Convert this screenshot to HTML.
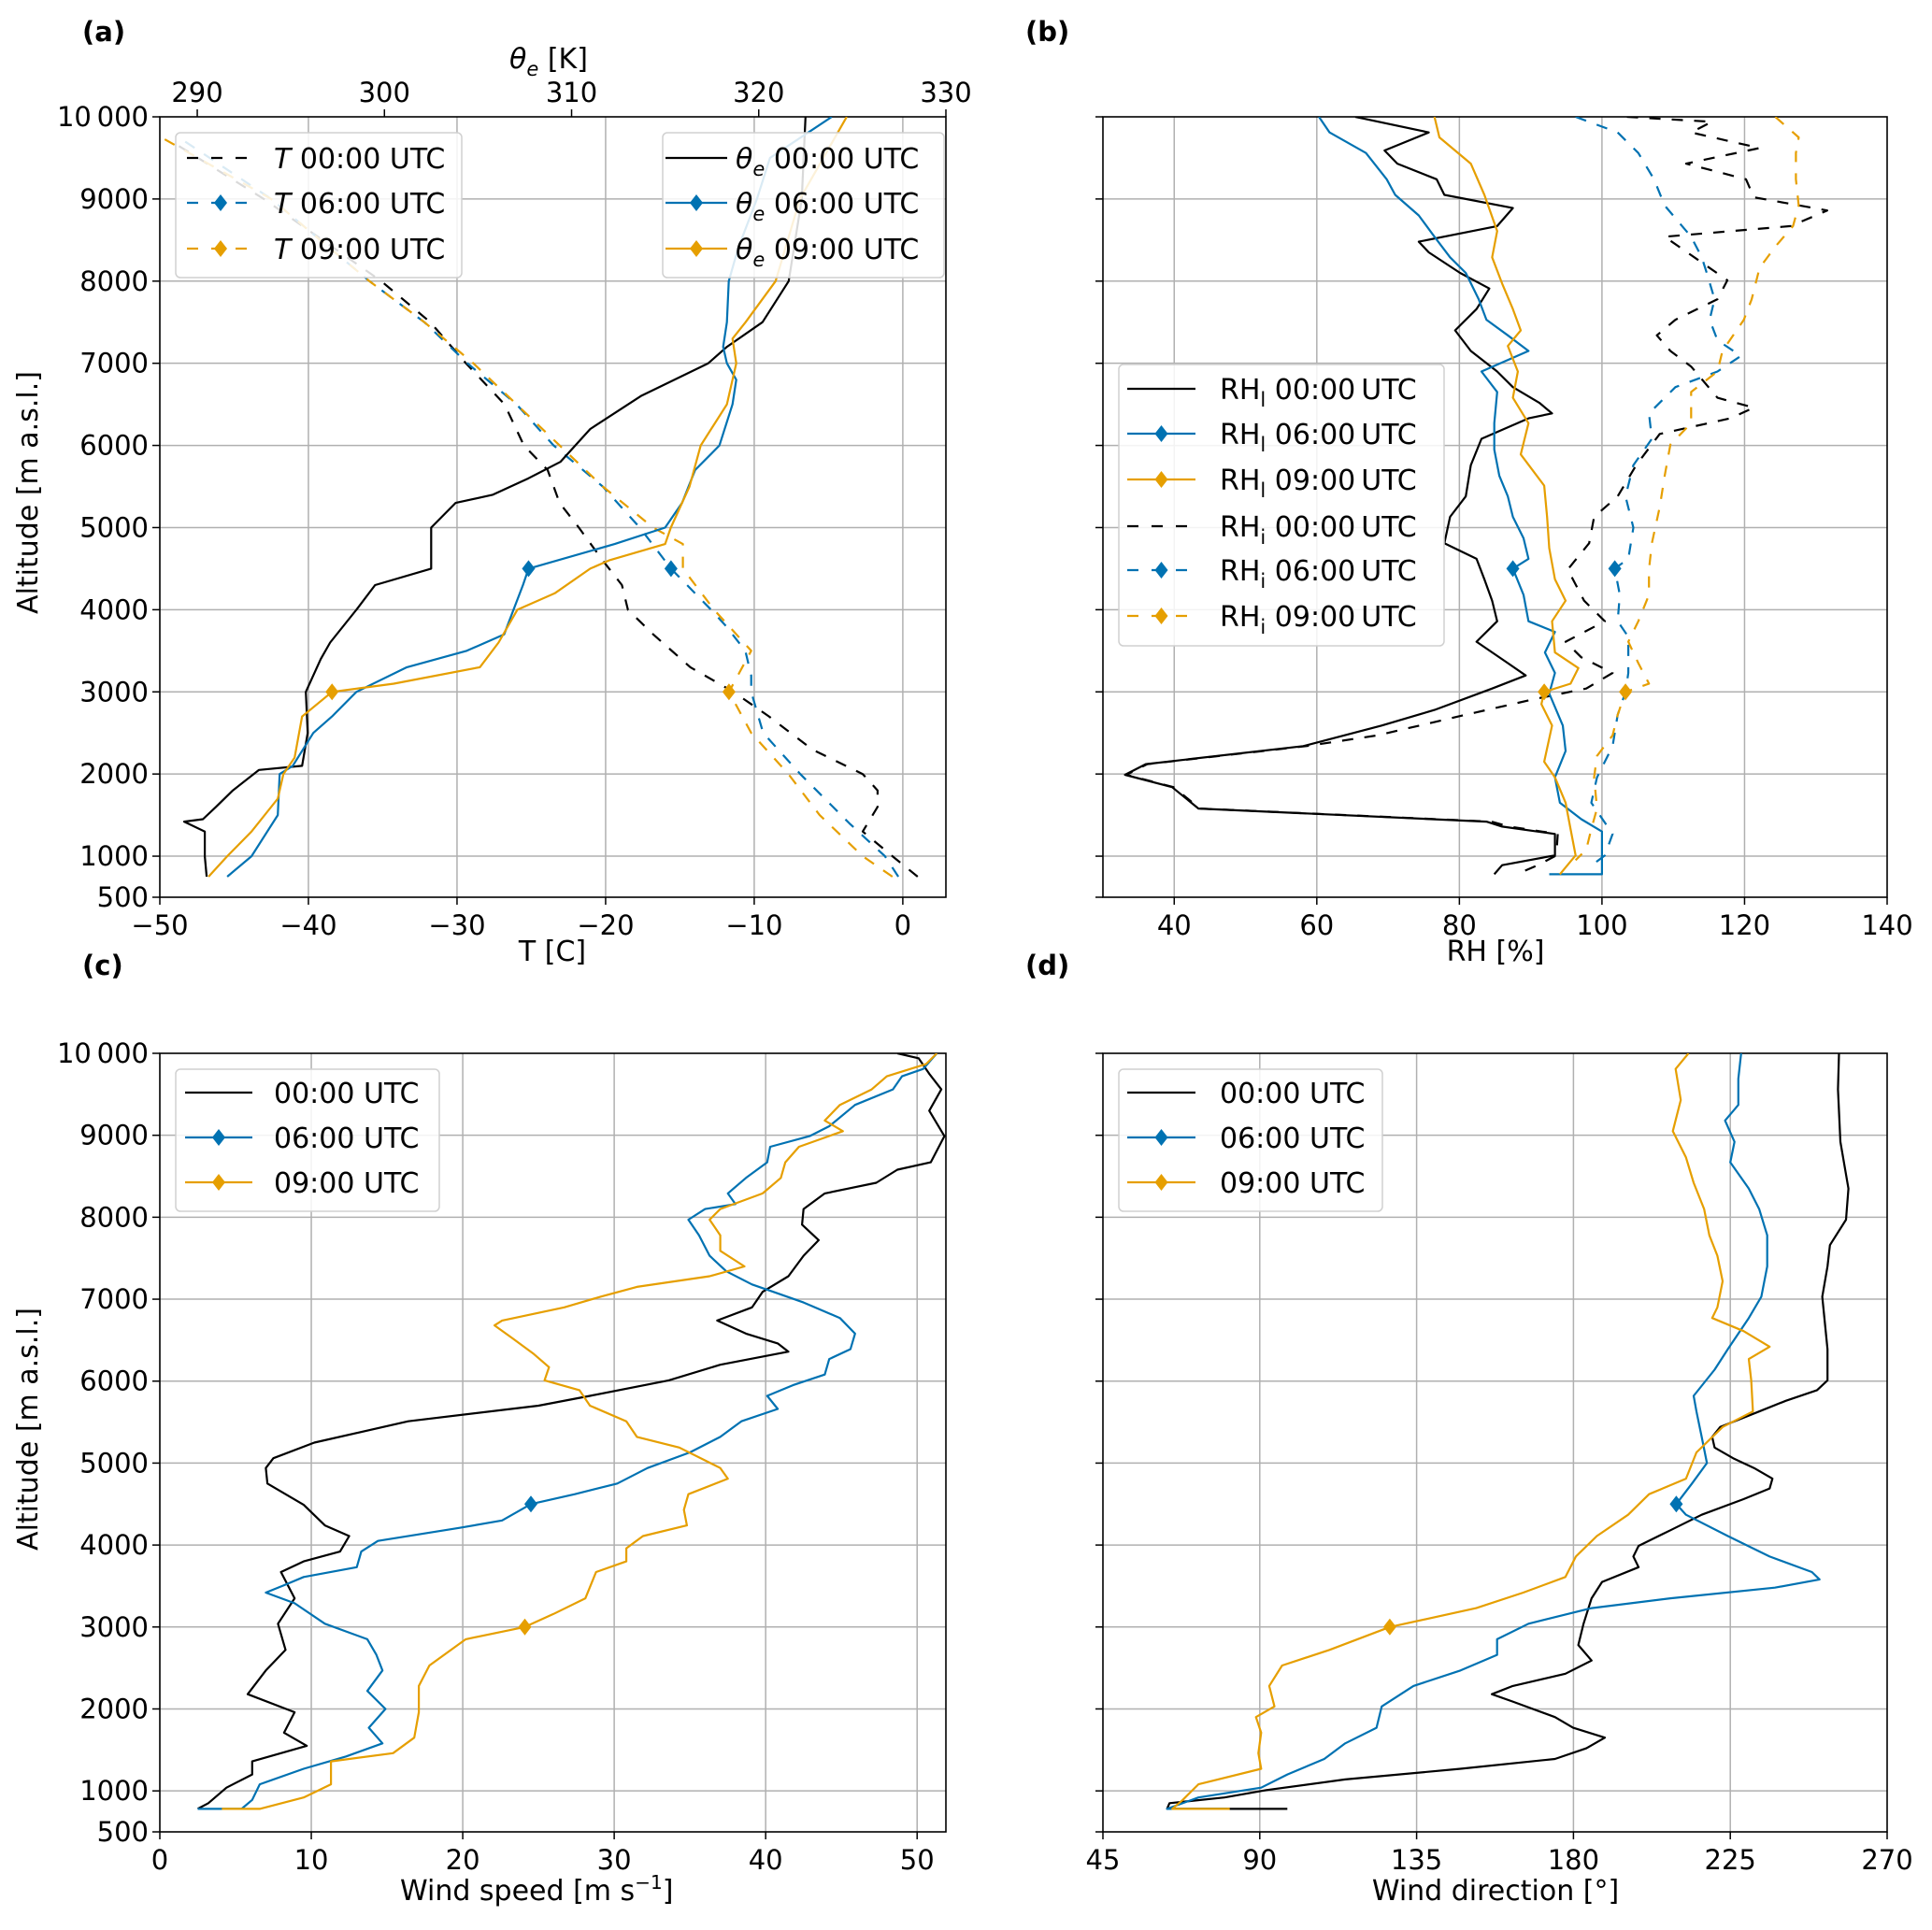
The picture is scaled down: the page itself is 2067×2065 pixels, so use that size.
<!DOCTYPE html>
<html><head><meta charset="utf-8"><style>
html,body{margin:0;padding:0;background:#fff;}
svg{display:block;font-family:"DejaVu Sans","Liberation Sans",sans-serif;}
</style></head><body>
<svg id="fig" xmlns="http://www.w3.org/2000/svg" width="2067" height="2065" viewBox="0 0 2067 2065"></svg>
<script>
// ---------- Panel (a) data ----------
const thetaE00Alt = [750,1000,1300,1420,1450,1600,1800,2050,2100,2500,3000,3400,3600,4000,4300,4500,5000,5300,5400,5600,5800,6200,6600,7000,7200,7500,8000,9000,10000];
const thetaE00 = [290.5,290.4,290.4,289.3,290.3,291.0,291.9,293.3,295.6,295.9,295.8,296.6,297.1,298.5,299.5,302.5,302.5,303.8,305.8,307.7,309.4,311.0,313.7,317.3,318.3,320.2,321.6,322.3,322.5];
const thetaE06Alt = [750,1000,1500,2000,2100,2500,2700,3000,3300,3500,3700,4000,4300,4500,4800,5000,5300,5700,6000,6500,6800,7000,7200,7500,8000,8400,9000,9500,10000];
const thetaE06 = [291.6,292.9,294.3,294.4,295.1,296.2,297.2,298.5,301.2,304.4,306.4,306.9,307.4,307.7,312.3,315.0,315.9,316.6,317.9,318.6,318.8,318.3,318.1,318.3,318.4,318.9,319.9,320.6,323.9];
const thetaE09Alt = [750,1000,1300,1700,2000,2200,2700,3000,3100,3300,3600,4000,4200,4500,4600,4800,5000,5500,6000,6500,7000,7300,7500,8000,9000,10000];
const thetaE09 = [290.6,291.6,292.9,294.3,294.6,295.2,295.6,297.2,300.5,305.1,306.1,307.1,309.1,311.0,312.0,315.0,315.3,316.3,316.9,318.3,318.8,318.6,319.3,320.9,322.2,324.7];
const temp00Alt = [750,1000,1300,1600,1800,2000,2300,2700,3000,3300,3700,4000,4300,4600,5000,5300,5700,6000,6500,7000,7500,8000,9000,9700];
const temp00 = [1.0,-0.7,-2.7,-1.7,-1.7,-2.7,-6.1,-9.0,-11.4,-14.3,-16.8,-18.5,-18.9,-20.2,-21.8,-23.1,-23.9,-25.5,-26.8,-29.4,-31.8,-35.1,-43.0,-49.2];
const temp06Alt = [750,1000,1400,2000,2500,3000,3200,3500,3800,4000,4500,5000,5500,6000,6500,7000,7500,8000,9000,9700];
const temp06 = [-0.3,-1.2,-3.6,-6.9,-9.4,-10.2,-10.2,-10.6,-11.9,-12.9,-15.6,-17.7,-20.2,-23.5,-26.0,-29.3,-32.2,-35.9,-42.5,-48.3];
const temp09Alt = [750,1000,1500,2000,2500,3000,3500,4000,4500,4800,5000,5500,6000,6500,7000,7500,8000,9000,9750];
const temp09 = [-0.7,-2.7,-5.6,-7.7,-10.2,-11.7,-10.2,-12.7,-14.8,-14.8,-16.8,-20.2,-23.1,-26.0,-28.9,-32.2,-35.9,-42.5,-49.9];
// ---------- Panel (b) data ----------
const rhl00Alt = [10000,9810,9590,9430,9240,9050,8890,8670,8480,8350,8100,7910,7660,7400,7150,6900,6710,6520,6390,6330,6080,5760,5380,5130,4810,4620,4370,4110,3860,3610,3350,3200,3040,2780,2590,2340,2120,1990,1840,1580,1420,1360,1270,1010,890,780];
const rhl00 = [65.4,75.7,69.5,71.3,76.8,77.9,87.5,85.3,74.3,75.7,80.1,84.2,82.4,79.4,81.6,85.3,87.5,91.2,93.0,89.7,83.1,81.6,80.9,78.7,77.9,82.4,83.5,84.6,85.3,82.4,86.8,89.3,84.6,76.5,69.1,58.1,36.0,33.1,39.7,43.4,83.8,86.0,93.4,93.4,86.0,84.9];
const rhi00Alt = [10000,9940,9810,9620,9430,9240,9020,8860,8670,8540,8010,7780,7530,7340,7150,6960,6580,6460,6330,6140,5760,5380,5130,4810,4490,4110,3860,3610,3420,3230,3040,2910,2720,2470,2340,2120,1990,1840,1580,1420,1360,1270,1010,890,780];
const rhi00 = [103.5,115.4,112.5,122.1,111.8,120.2,121.3,131.6,126.5,108.8,117.6,116.2,110.3,107.7,109.6,112.5,116.2,121.3,118.0,108.1,104.8,102.2,98.9,98.2,95.2,97.5,100.4,94.9,97.1,101.5,97.8,90.4,80.8,68.5,58.5,36.2,33.3,39.9,43.6,84.5,87.0,93.8,93.6,91.0,88.0];
const rhl06Alt = [10000,9810,9560,9240,9050,8800,8540,8290,8100,7780,7530,7340,7150,6900,6650,6270,5950,5630,5380,5130,4870,4620,4500,4180,3860,3730,3480,3230,2980,2590,2280,1960,1650,1450,1300,780,780];
const rhl06 = [60.3,61.8,66.9,69.8,71.0,74.3,76.5,78.7,80.9,82.7,83.8,86.8,89.7,83.1,85.3,84.9,84.9,85.6,86.8,87.5,89.0,89.7,87.5,89.0,89.7,93.4,92.0,93.4,92.6,94.5,94.9,93.4,94.1,97.1,100,100,92.6];
const rhl09Alt = [10000,9750,9430,9050,8610,8290,7970,7660,7400,7210,6900,6580,6270,5890,5510,5130,4750,4370,4110,3860,3480,3290,3100,3000,2850,2590,2150,1960,1650,1330,1010,780];
const rhl09 = [76.5,77.2,81.6,83.5,85.3,84.6,86.0,87.5,88.6,86.8,88.2,87.5,89.7,88.6,91.9,92.3,92.6,93.4,94.9,93.0,93.4,96.7,95.6,91.9,91.5,93.0,91.9,93.4,94.9,95.6,96.3,94.1];
const rhi06Alt = [10000,9810,9560,9240,8920,8540,8290,8100,7780,7530,7280,7090,6900,6710,6390,6080,5760,5380,5000,4620,4500,4180,3860,3670,3350,3230,3000,2720,2340,1960,1650,1270,1010,850];
const rhi06 = [96.3,102.2,105.1,107.3,108.8,112.5,114.0,114.7,115.8,115.1,116.2,119.5,116.2,110.3,106.6,107.0,104.4,103.3,104.4,103.7,101.8,102.5,102.2,103.7,103.7,103.7,103.3,102.2,101.5,99.3,98.5,101.5,100.4,98.0];
const rhi09Alt = [10000,9750,9560,9240,8920,8670,8420,8160,7780,7530,7150,6900,6650,6270,6010,5630,5250,4810,4490,4180,3860,3610,3350,3100,3000,2720,2470,2220,1960,1580,1330,1080,950];
const rhi09 = [124.3,127.6,127.2,127.2,127.6,126.8,124.3,122.1,121.0,119.9,116.9,116.2,112.5,112.5,109.6,108.8,108.1,107.0,106.6,106.6,105.1,103.7,105.1,106.6,103.3,102.2,101.5,99.3,98.9,99.3,98.5,97.8,96.3];
// ---------- Panel (c) data ----------
const ws00Alt = [10000,9940,9750,9560,9300,8990,8670,8580,8420,8290,8100,7910,7720,7530,7280,7090,6900,6740,6580,6460,6360,6200,6010,5820,5700,5510,5250,5060,4940,4750,4490,4240,4110,3920,3800,3670,3350,3040,2720,2470,2180,1960,1710,1550,1360,1200,1040,850,780];
const ws00 = [48.7,50.1,50.8,51.6,50.8,51.8,50.9,48.7,47.3,43.9,42.5,42.4,43.5,42.5,41.5,39.8,39.1,36.8,38.7,40.8,41.5,37.0,33.6,28.4,25.0,16.4,10.2,7.5,7.0,7.1,9.5,10.9,12.5,11.9,9.5,8.0,8.9,7.8,8.3,7.0,5.8,8.9,8.2,9.7,6.1,6.1,4.4,3.2,2.5];
const ws06Alt = [10000,9810,9720,9560,9370,9110,8990,8860,8670,8480,8290,8160,8100,7970,7780,7530,7340,7180,7090,6960,6770,6580,6390,6270,6080,5950,5820,5660,5510,5320,5130,4940,4750,4620,4500,4300,4210,4050,3920,3730,3610,3510,3420,3290,3040,2850,2660,2470,2220,2000,1770,1580,1420,1270,1080,890,780,780];
const ws06 = [51.3,50.4,49.0,48.4,45.9,44.2,42.9,40.3,40.1,38.7,37.5,38.0,36.0,34.9,35.6,36.3,37.4,39.1,40.5,42.5,44.9,45.9,45.6,44.2,43.9,41.8,40.1,40.8,38.4,37.0,35.0,32.2,30.2,27.4,24.5,22.6,19.8,14.4,13.3,13.0,9.5,8.2,7.0,8.9,10.9,13.7,14.3,14.7,13.7,14.9,13.8,14.7,12.3,9.5,6.6,6.1,5.4,2.5];
const ws09Alt = [10000,9870,9720,9560,9370,9180,9050,8860,8670,8480,8290,8100,7970,7780,7590,7400,7280,7150,7030,6900,6740,6680,6520,6330,6170,6010,5890,5700,5510,5320,5190,4940,4810,4620,4430,4240,4110,3960,3800,3670,3350,3160,3000,2850,2530,2280,1960,1650,1460,1360,1080,920,780,780];
const ws09 = [51.3,50.6,48.0,47.0,44.9,43.9,45.1,42.2,41.3,41.0,39.8,37.0,36.3,37.0,37.0,38.6,36.3,31.5,29.1,26.7,22.6,22.1,23.3,24.7,25.7,25.4,27.7,28.4,30.8,31.5,34.3,37.0,37.5,34.9,34.6,34.8,31.9,30.8,30.8,28.8,28.1,26.0,24.1,20.2,17.8,17.1,17.1,16.8,15.4,11.3,11.3,9.5,6.6,4.1];
// ---------- Panel (d) data ----------
const wd00Alt = [10000,9560,8920,8350,7970,7660,7400,7030,6390,6010,5890,5760,5630,5440,5320,5190,5060,4940,4810,4690,4560,4370,4180,3990,3860,3730,3550,3350,3040,2780,2590,2430,2280,2180,2090,1900,1770,1650,1520,1390,1270,1140,1010,920,850,780,780];
const wd00 = [256.2,255.9,256.6,258.9,258.2,253.6,252.9,251.4,252.9,252.9,249.9,240.9,233.3,222.1,219.8,220.5,225.8,231.8,237.1,236.3,228.8,216.8,207.8,198.7,197.2,198.7,188.2,185.2,182.9,181.4,185.2,177.7,162.6,156.6,162.6,174.7,179.9,189.0,183.7,174.7,147.6,114.5,91.9,79.9,64.1,63.4,97.9];
const wd06Alt = [10000,9690,9370,9180,8920,8670,8350,8100,7780,7400,7030,6770,6390,6140,5820,5630,5320,5000,4750,4500,4370,4110,3860,3670,3580,3480,3350,3230,3040,2850,2660,2470,2280,2030,1770,1580,1390,1200,1040,920,780,780];
const wd06 = [228.1,227.3,227.3,223.5,226.2,225.0,230.3,233.3,235.6,235.6,233.9,230.3,224.3,220.5,214.5,215.3,216.8,218.3,214.0,209.5,212.3,224.3,236.3,248.4,250.6,237.8,207.8,185.2,167.1,158.1,158.1,147.6,134.1,125.0,123.5,114.5,108.5,97.9,90.4,72.4,63.4,80.6];
const wd09Alt = [10000,9810,9430,9050,8730,8420,8100,7780,7530,7220,6900,6770,6610,6420,6270,6010,5630,5440,5130,4810,4620,4370,4110,3860,3610,3420,3230,3000,2720,2530,2280,2030,1900,1710,1460,1270,1080,890,780,780];
const wd09 = [213.0,209.3,210.8,208.5,212.3,214.5,217.5,219.0,221.3,222.8,221.3,219.8,228.8,236.3,230.3,231.0,231.5,222.8,215.3,212.3,201.7,195.7,186.7,180.7,177.7,165.6,152.1,127.3,110.0,96.4,92.7,94.2,88.9,90.4,89.6,90.4,72.4,67.9,64.9,81.4];
// ---------- axis ticks ----------
const altTicks = [500,1000,2000,3000,4000,5000,6000,7000,8000,9000,10000];
const altTickLabels = ["500","1000","2000","3000","4000","5000","6000","7000","8000","9000","10\u2009000"];
const tTicks = [-50,-40,-30,-20,-10,0];
const tTickLabels = ["\u221250","\u221240","\u221230","\u221220","\u221210","0"];
const thetaTicks = [290,300,310,320,330];
const rhTicks = [40,60,80,100,120,140];
const wsTicks = [0,10,20,30,40,50];
const wdTicks = [45,90,135,180,225,270];

const NS = "http://www.w3.org/2000/svg";
const svg = document.getElementById("fig");
const BLUE = "#0072B2", ORANGE = "#E69F00", BLACK = "#000000";
const FS = 29;
function mk(tag, attrs, parent) {
  const e = document.createElementNS(NS, tag);
  for (const k in attrs) e.setAttribute(k, attrs[k]);
  (parent || svg).appendChild(e);
  return e;
}
function makePanel(x0, x1, y0, y1, xmin, xmax) {
  return {x0, x1, y0, y1,
    sx: v => x0 + (v - xmin) / (xmax - xmin) * (x1 - x0),
    sy: a => y1 - (a - 500) / 9500 * (y1 - y0)};
}
const PA = makePanel(171, 1012, 125, 960, -50, 2.9);
const PAtop = makePanel(171, 1012, 125, 960, 288.0, 330);
const PB = makePanel(1180, 2019, 125, 960, 30, 140);
const PC = makePanel(171, 1012, 1127, 1960, 0, 51.9);
const PD = makePanel(1180, 2019, 1127, 1960, 45, 270);

function drawAxes(p, name, xticks, xlabels, yLabels) {
  const g = mk("g", {});
  
  
  xticks.forEach(v => {
    const x = p.sx(v);
    if (x > p.x0 + 1 && x < p.x1 - 1) {
      const l = mk("line", {x1: x, x2: x, y1: p.y0, y2: p.y1, stroke: "#b0b0b0", "stroke-width": 1.5}, g);
      
      
    }
  });
  altTicks.forEach(a => {
    const y = p.sy(a);
    if (y > p.y0 + 1 && y < p.y1 - 1) {
      const l = mk("line", {x1: p.x0, x2: p.x1, y1: y, y2: y, stroke: "#b0b0b0", "stroke-width": 1.5}, g);
      
      
    }
  });
  xticks.forEach((v, i) => {
    const x = p.sx(v);
    const t = mk("line", {x1: x, x2: x, y1: p.y1, y2: p.y1 + 8, stroke: "#000", "stroke-width": 1.5}, g);
    
    
    const tx = mk("text", {x: x, y: p.y1 + 40, "font-size": FS, "text-anchor": "middle", fill: "#000"}, g);
    tx.textContent = xlabels[i];
    
    
  });
  altTicks.forEach((a, i) => {
    const y = p.sy(a);
    const t = mk("line", {x1: p.x0 - 8, x2: p.x0, y1: y, y2: y, stroke: "#000", "stroke-width": 1.5}, g);
    
    
    if (yLabels) {
      const tx = mk("text", {x: p.x0 - 12, y: y + 10, "font-size": FS, "text-anchor": "end", fill: "#000"}, g);
      tx.textContent = altTickLabels[i];
      
      
    }
  });
  const r = mk("rect", {x: p.x0, y: p.y0, width: p.x1 - p.x0, height: p.y1 - p.y0, fill: "none", stroke: "#000", "stroke-width": 1.6}, g);
  
  
}
function drawSeries(p, vals, alts, color, dash, name, markerAlt) {
  const pts = vals.map((v, i) => p.sx(v).toFixed(1) + "," + p.sy(alts[i]).toFixed(1)).join(" ");
  const attrs = {points: pts, fill: "none", stroke: color, "stroke-width": 2.2, "stroke-linejoin": "round"};
  if (dash) attrs["stroke-dasharray"] = "12,12";
  const cp = "clip-" + name;
  const clip = mk("clipPath", {id: cp});
  mk("rect", {x: p.x0, y: p.y0, width: p.x1 - p.x0, height: p.y1 - p.y0}, clip);
  attrs["clip-path"] = "url(#" + cp + ")";
  const l = mk("polyline", attrs);
  
  
  if (markerAlt !== null) {
    const i = alts.indexOf(markerAlt);
    if (i >= 0) {
      const x = p.sx(vals[i]), y = p.sy(alts[i]);
      const m = mk("polygon", {points: `${x},${y-9} ${x+7},${y} ${x},${y+9} ${x-7},${y}`, fill: color});
      
      
    }
  }
}
function label(x, y, txt, size, name, opts) {
  const t = mk("text", Object.assign({x: x, y: y, "font-size": size, fill: "#000"}, opts || {}));
  t.textContent = txt;
  
  
  return t;
}
function legendBox(x, y, w, h, name) {
  const r = mk("rect", {x, y, width: w, height: h, rx: 5, fill: "#fff", "fill-opacity": 0.85, stroke: "#d0d0d0", "stroke-width": 1.5});
  
  
}
function legendSample(x1, x2, y, color, dash, marker, name) {
  const a = {x1, x2, y1: y, y2: y, stroke: color, "stroke-width": 2.2};
  if (dash) a["stroke-dasharray"] = "12,14";
  const l = mk("line", a);
  
  
  if (marker) {
    const cx = (x1 + x2) / 2;
    const m = mk("polygon", {points: `${cx},${y-9} ${cx+7},${y} ${cx},${y+9} ${cx-7},${y}`, fill: color});
    
    
  }
}
function richText(x, y, parts, name) {
  const t = mk("text", {x, y, "font-size": 30, fill: "#000"});
  
  
  parts.forEach(pt => {
    const s = mk("tspan", pt.a || {}, t);
    s.textContent = pt.t;
  });
  return t;
}

// ---------- Panel a ----------
drawAxes(PA, "panel-a", tTicks, tTickLabels, true);
thetaTicks.forEach(v => {
  const x = PAtop.sx(v);
  const t = mk("line", {x1: x, x2: x, y1: PA.y0 - 8, y2: PA.y0, stroke: "#000", "stroke-width": 1.5});
  
  
  label(x, PA.y0 - 16, String(v), FS, 'top-x-tick-label', {"text-anchor": "middle"});
});
drawSeries(PA, temp00, temp00Alt, BLACK, true, "t-00utc", null);
drawSeries(PA, temp06, temp06Alt, BLUE, true, "t-06utc", 4500);
drawSeries(PA, temp09, temp09Alt, ORANGE, true, "t-09utc", 3000);
drawSeries(PAtop, thetaE00, thetaE00Alt, BLACK, false, "theta-e-00utc", null);
drawSeries(PAtop, thetaE06, thetaE06Alt, BLUE, false, "theta-e-06utc", 4500);
drawSeries(PAtop, thetaE09, thetaE09Alt, ORANGE, false, "theta-e-09utc", 3000);
legendBox(188, 142, 306, 155, "legend-a-temperature");
[[169, BLACK, false, "00"], [217, BLUE, true, "06"], [266, ORANGE, true, "09"]].forEach(e => {
  legendSample(200, 272, e[0], e[1], true, e[2], "legend-t-" + e[3]);
  richText(293, e[0] + 11, [{t: "T", a: {"font-style": "italic"}}, {t: " " + e[3] + ":00 UTC"}], "legend-t-" + e[3] + "-label");
});
legendBox(709, 142, 301, 155, "legend-a-theta");
[[169, BLACK, false, "00"], [217, BLUE, true, "06"], [266, ORANGE, true, "09"]].forEach(e => {
  legendSample(712, 778, e[0], e[1], false, e[2], "legend-theta-" + e[3]);
  richText(787, e[0] + 11, [{t: "θ", a: {"font-style": "italic"}}, {t: "e", a: {"font-style": "italic", "font-size": 21, dy: 8}}, {t: " " + e[3] + ":00 UTC", a: {dy: -8}}], "legend-theta-" + e[3] + "-label");
});
richText(545, 73, [{t: "θ", a: {"font-style": "italic"}}, {t: "e", a: {"font-style": "italic", "font-size": 21, dy: 8}}, {t: " [K]", a: {dy: -8}}], "top-x-axis-title");
label(591, 1028, "T [C]", 30, "x-axis-title-a", {"text-anchor": "middle"});
label(40, 527, "Altitude [m a.s.l.]", 30, "y-axis-title-a", {"text-anchor": "middle", transform: "rotate(-90 40 527)"});
label(88, 44, "(a)", 29, "panel-label-a", {"font-weight": "bold"});

// ---------- Panel b ----------
drawAxes(PB, "panel-b", rhTicks, rhTicks.map(String), false);
drawSeries(PB, rhi00, rhi00Alt, BLACK, true, "rhi-00utc", null);
drawSeries(PB, rhi06, rhi06Alt, BLUE, true, "rhi-06utc", 4500);
drawSeries(PB, rhi09, rhi09Alt, ORANGE, true, "rhi-09utc", 3000);
drawSeries(PB, rhl00, rhl00Alt, BLACK, false, "rhl-00utc", null);
drawSeries(PB, rhl06, rhl06Alt, BLUE, false, "rhl-06utc", 4500);
drawSeries(PB, rhl09, rhl09Alt, ORANGE, false, "rhl-09utc", 3000);
legendBox(1197, 390, 348, 301, "legend-b");
[[416, BLACK, false, false, "l", "00"], [464, BLUE, true, false, "l", "06"], [513, ORANGE, true, false, "l", "09"],
 [563, BLACK, false, true, "i", "00"], [610, BLUE, true, true, "i", "06"], [659, ORANGE, true, true, "i", "09"]].forEach(e => {
  legendSample(1206, 1279, e[0], e[1], e[3], e[2], "legend-rh" + e[4] + "-" + e[5]);
  richText(1305, e[0] + 11, [{t: "RH"}, {t: e[4], a: {"font-size": 21, dy: 8}}, {t: " " + e[5] + ":00\u2009UTC", a: {dy: -8}}], "legend-rh" + e[4] + "-" + e[5] + "-label");
});
label(1600, 1028, "RH [%]", 30, "x-axis-title-b", {"text-anchor": "middle"});
label(1097, 44, "(b)", 29, "panel-label-b", {"font-weight": "bold"});

// ---------- Panel c ----------
drawAxes(PC, "panel-c", wsTicks, wsTicks.map(String), true);
drawSeries(PC, ws00, ws00Alt, BLACK, false, "wind-speed-00utc", null);
drawSeries(PC, ws06, ws06Alt, BLUE, false, "wind-speed-06utc", 4500);
drawSeries(PC, ws09, ws09Alt, ORANGE, false, "wind-speed-09utc", 3000);
legendBox(188, 1144, 282, 152, "legend-c");
[[1169, BLACK, false, "00"], [1217, BLUE, true, "06"], [1265, ORANGE, true, "09"]].forEach(e => {
  legendSample(198, 270, e[0], e[1], false, e[2], "legend-c-" + e[3]);
  richText(293, e[0] + 11, [{t: e[3] + ":00 UTC"}], "legend-c-" + e[3] + "-label");
});
richText(428, 2033, [{t: "Wind speed [m s"}, {t: "\u22121", a: {"font-size": 20, dy: -12}}, {t: "]", a: {dy: 12}}], "x-axis-title-c");
label(40, 1529, "Altitude [m a.s.l.]", 30, "y-axis-title-c", {"text-anchor": "middle", transform: "rotate(-90 40 1529)"});
label(88, 1043, "(c)", 29, "panel-label-c", {"font-weight": "bold"});

// ---------- Panel d ----------
drawAxes(PD, "panel-d", wdTicks, wdTicks.map(String), false);
drawSeries(PD, wd00, wd00Alt, BLACK, false, "wind-direction-00utc", null);
drawSeries(PD, wd06, wd06Alt, BLUE, false, "wind-direction-06utc", 4500);
drawSeries(PD, wd09, wd09Alt, ORANGE, false, "wind-direction-09utc", 3000);
legendBox(1197, 1144, 282, 152, "legend-d");
[[1169, BLACK, false, "00"], [1217, BLUE, true, "06"], [1265, ORANGE, true, "09"]].forEach(e => {
  legendSample(1206, 1279, e[0], e[1], false, e[2], "legend-d-" + e[3]);
  richText(1305, e[0] + 11, [{t: e[3] + ":00 UTC"}], "legend-d-" + e[3] + "-label");
});
label(1600, 2033, "Wind direction [°]", 30, "x-axis-title-d", {"text-anchor": "middle"});
label(1097, 1043, "(d)", 29, "panel-label-d", {"font-weight": "bold"});
</script>
</body></html>
